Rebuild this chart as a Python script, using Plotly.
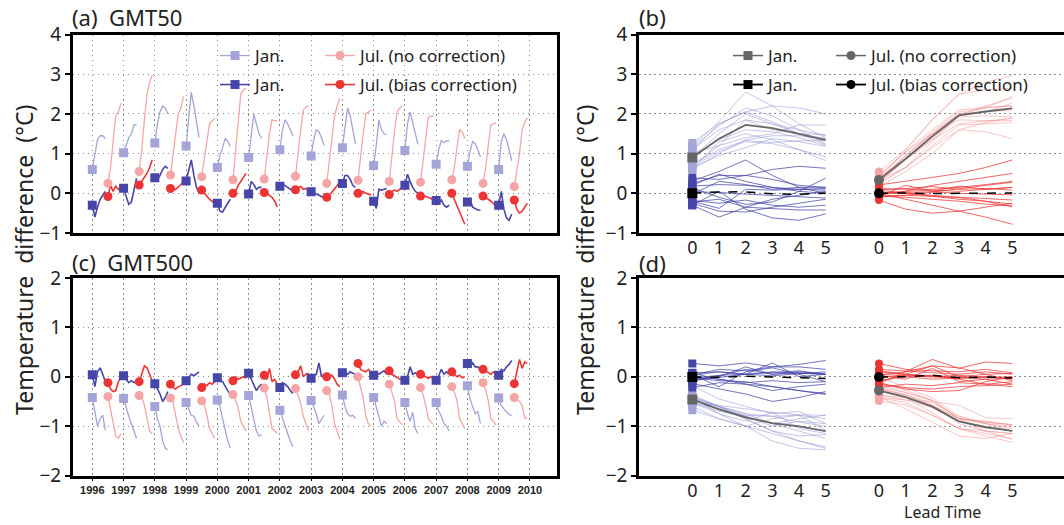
import numpy as np
import plotly.graph_objects as go

# ---------------- data ----------------
YEARS = list(range(1996, 2010))
LEAD = [0, 1, 2, 3, 4, 5]            # lead time (months)
YEAR_TICKS = list(range(1996, 2011))
LEAD_TICK_TEXT = ["0", "1", "2", "3", "4", "5"]
JUL_START = 0.5                       # July start as fraction of year
JUL_GROUP_SHIFT = 7                   # position of the July group on panel (b)/(d)

# GMT50, January initial, no correction
GMT50_JAN_RAW = [
    [0.60, 1.00, 1.35, 1.45, 1.45, 1.38],
    [1.02, 1.20, 1.40, 1.50, 1.72, 1.72],
    [1.27, 1.75, 2.05, 2.20, 2.15, 2.00],
    [1.19, 1.80, 2.55, 2.20, 1.75, 1.40],
    [0.65, 0.95, 1.15, 1.38, 1.30, 1.18],
    [0.90, 1.50, 2.00, 1.75, 1.50, 1.38],
    [1.10, 1.60, 1.85, 1.75, 1.60, 1.45],
    [0.94, 1.35, 1.60, 1.55, 1.40, 1.20],
    [1.15, 1.70, 2.15, 1.95, 1.60, 1.25],
    [0.70, 1.20, 1.85, 1.60, 1.50, 1.48],
    [1.08, 1.75, 2.05, 1.80, 1.50, 1.23],
    [0.73, 1.10, 1.33, 1.28, 1.32, 1.33],
    [0.68, 1.05, 1.30, 1.25, 1.10, 0.92],
    [0.60, 1.30, 1.50, 1.35, 1.10, 0.82],
]
# GMT50, January initial, bias correction
GMT50_JAN_BC = [
    [-0.30, -0.60, -0.35, -0.15, -0.05, 0.05],
    [0.13, -0.10, -0.28, -0.22, 0.05, 0.38],
    [0.39, 0.35, 0.45, 0.60, 0.68, 0.63],
    [0.31, 0.55, 0.84, 0.45, 0.15, 0.00],
    [-0.25, -0.45, -0.47, -0.35, -0.25, -0.15],
    [-0.02, 0.30, 0.22, 0.10, 0.15, 0.15],
    [0.18, 0.22, 0.20, 0.15, 0.10, 0.08],
    [0.04, 0.02, -0.02, -0.05, -0.08, -0.12],
    [0.25, 0.45, 0.45, 0.35, 0.20, 0.15],
    [-0.20, -0.38, 0.10, 0.08, 0.10, 0.12],
    [0.20, 0.48, 0.30, 0.15, 0.05, 0.00],
    [-0.18, -0.25, -0.17, -0.30, -0.35, -0.30],
    [-0.22, -0.15, -0.35, -0.38, -0.42, -0.42],
    [-0.30, 0.05, -0.40, -0.62, -0.68, -0.52],
]
# GMT50, July initial, no correction
GMT50_JUL_RAW = [
    [0.25, 0.65, 1.30, 1.95, 2.05, 2.27],
    [0.55, 1.10, 1.85, 2.50, 2.80, 2.97],
    [0.46, 1.05, 1.50, 2.00, 2.15, 2.44],
    [0.42, 0.85, 1.35, 1.75, 1.82, 1.89],
    [0.34, 1.10, 1.85, 2.50, 2.60, 2.65],
    [0.36, 0.95, 1.50, 1.85, 1.83, 1.83],
    [0.43, 1.05, 1.60, 2.10, 2.17, 2.20],
    [0.25, 0.85, 1.35, 1.95, 2.20, 2.40],
    [0.33, 0.95, 1.50, 2.00, 2.05, 2.10],
    [0.30, 0.95, 1.55, 2.05, 2.15, 2.20],
    [0.28, 0.85, 1.40, 1.92, 1.95, 1.93],
    [0.34, 0.65, 1.15, 1.60, 1.55, 1.38],
    [0.25, 0.65, 1.20, 1.72, 1.75, 1.78],
    [0.17, 0.55, 1.00, 1.60, 1.78, 1.90],
]
# GMT50, July initial, bias correction
GMT50_JUL_BC = [
    [-0.08, 0.20, 0.05, 0.18, 0.10, 0.15],
    [0.21, 0.30, 0.40, 0.50, 0.65, 0.84],
    [0.12, 0.10, 0.10, 0.15, 0.22, 0.30],
    [0.08, 0.00, -0.08, -0.15, -0.20, -0.27],
    [0.00, 0.05, 0.20, 0.30, 0.40, 0.50],
    [0.02, 0.00, -0.05, -0.10, -0.20, -0.34],
    [0.09, 0.12, 0.17, 0.10, 0.12, 0.08],
    [-0.10, -0.05, 0.03, 0.12, 0.20, 0.28],
    [0.00, 0.02, 0.04, 0.00, -0.02, -0.04],
    [-0.03, 0.05, 0.08, 0.05, 0.10, 0.15],
    [-0.07, -0.05, -0.08, -0.10, -0.13, -0.17],
    [0.00, -0.15, -0.30, -0.45, -0.60, -0.78],
    [-0.07, -0.10, -0.15, -0.20, -0.27, -0.32],
    [-0.17, -0.40, -0.50, -0.45, -0.35, -0.25],
]
# GMT500, January initial, no correction
GMT500_JAN_RAW = [
    [-0.42, -0.75, -1.00, -0.85, -0.78, -1.08],
    [-0.44, -0.65, -0.80, -0.95, -1.10, -1.25],
    [-0.60, -0.85, -1.00, -1.30, -1.45, -1.48],
    [-0.52, -0.65, -0.78, -0.80, -0.92, -1.00],
    [-0.47, -0.60, -0.85, -1.10, -1.30, -1.45],
    [-0.38, -0.62, -0.85, -1.10, -1.20, -1.17],
    [-0.68, -0.85, -1.00, -1.15, -1.30, -1.42],
    [-0.48, -0.60, -0.75, -0.95, -0.85, -0.78],
    [-0.37, -0.60, -0.75, -0.80, -0.78, -0.85],
    [-0.42, -0.60, -0.80, -1.00, -0.90, -0.95],
    [-0.52, -0.75, -0.90, -0.72, -1.05, -1.15],
    [-0.52, -0.70, -0.80, -0.95, -1.00, -1.10],
    [-0.18, -0.45, -0.60, -0.75, -0.70, -0.95],
    [-0.43, -0.58, -0.65, -0.72, -0.77, -0.78],
]
# GMT500, January initial, bias correction
GMT500_JAN_BC = [
    [0.04, -0.20, 0.10, 0.18, 0.05, -0.10],
    [0.02, -0.05, -0.12, -0.08, -0.12, -0.10],
    [-0.14, -0.25, -0.35, -0.50, -0.42, -0.30],
    [-0.08, -0.02, 0.05, 0.02, 0.06, 0.10],
    [-0.02, -0.08, -0.10, -0.20, -0.28, -0.36],
    [0.07, -0.05, -0.15, -0.28, -0.20, -0.15],
    [-0.22, -0.12, -0.15, -0.20, -0.28, -0.34],
    [-0.03, 0.03, 0.05, 0.28, 0.00, 0.05],
    [0.08, 0.10, 0.05, 0.10, 0.07, 0.05],
    [0.03, 0.10, 0.05, 0.08, 0.12, 0.05],
    [-0.07, 0.00, 0.20, 0.05, 0.08, 0.05],
    [-0.07, 0.02, 0.15, 0.05, 0.10, 0.05],
    [0.27, 0.22, 0.28, 0.20, 0.20, 0.15],
    [0.03, 0.15, 0.12, 0.20, 0.25, 0.33],
]
# GMT500, July initial, no correction
GMT500_JUL_RAW = [
    [-0.40, -0.65, -0.92, -1.20, -1.25, -1.15],
    [-0.38, -0.42, -0.58, -0.85, -1.10, -1.15],
    [-0.43, -0.52, -0.78, -1.05, -1.20, -1.33],
    [-0.49, -0.57, -0.78, -1.05, -1.15, -1.25],
    [-0.36, -0.47, -0.63, -0.90, -1.00, -1.10],
    [-0.23, -0.42, -0.73, -1.05, -1.10, -1.15],
    [-0.24, -0.37, -0.53, -0.80, -0.95, -1.10],
    [-0.28, -0.37, -0.58, -0.95, -1.10, -1.27],
    [0.00, -0.22, -0.43, -0.80, -0.95, -1.00],
    [-0.15, -0.32, -0.48, -0.85, -0.92, -0.97],
    [-0.22, -0.37, -0.58, -0.85, -0.92, -0.97],
    [-0.20, -0.32, -0.48, -0.85, -0.95, -1.05],
    [-0.12, -0.27, -0.48, -0.85, -0.90, -0.98],
    [-0.42, -0.47, -0.50, -0.58, -0.83, -0.85],
]
# GMT500, July initial, bias correction
GMT500_JUL_BC = [
    [-0.12, -0.25, -0.30, -0.28, -0.10, 0.00],
    [-0.10, 0.05, 0.22, 0.18, 0.05, -0.08],
    [-0.15, -0.22, -0.25, -0.20, -0.18, -0.15],
    [-0.22, -0.15, -0.18, -0.12, -0.15, -0.10],
    [-0.08, 0.00, -0.05, -0.02, 0.00, -0.03],
    [0.03, -0.05, 0.17, -0.10, -0.05, -0.15],
    [0.04, 0.10, 0.22, 0.00, 0.05, 0.07],
    [0.00, 0.02, 0.03, -0.05, -0.15, -0.20],
    [0.27, 0.15, 0.12, 0.10, 0.15, 0.08],
    [0.12, 0.05, 0.02, -0.02, -0.05, -0.03],
    [0.05, 0.02, 0.00, -0.03, 0.00, -0.05],
    [0.10, 0.05, 0.00, 0.03, -0.02, 0.00],
    [0.15, 0.12, 0.08, 0.05, 0.10, 0.05],
    [-0.14, 0.10, 0.35, 0.17, 0.30, 0.27],
]

# ---------------- styles ----------------
W, H = 1064, 525
LB = "#a4a4d8"      # Jan, no correction
DB = "#4646a8"      # Jan, bias correction
LP = "#f5a5a5"      # Jul, no correction
RD = "#ec3434"      # Jul, bias correction
GRAY = "#666666"
FONT = "Noto Sans, DejaVu Sans, sans-serif"
YEARFONT = "Liberation Sans, Arial, sans-serif"
GRID = dict(showgrid=True, gridcolor="#8c8c8c", gridwidth=1.2, griddash="1.5px,3.5px")


def px(x):
    return x / W


def py(y):
    return 1 - y / H


fig = go.Figure()


def series_xy(rows, start):
    xs, ys = [], []
    for yr, row in zip(YEARS, rows):
        for m, v in zip(LEAD, row):
            xs.append(yr + start + m / 12.0)
            ys.append(v)
        xs.append(None)
        ys.append(None)
    return xs, ys


def time_panel(raw_jan, bc_jan, raw_jul, bc_jul, xa, ya):
    for rows, start, color, width in [
        (raw_jan, 0.0, LB, 1.3), (raw_jul, JUL_START, LP, 1.3),
        (bc_jan, 0.0, DB, 1.6), (bc_jul, JUL_START, RD, 1.6),
    ]:
        xs, ys = series_xy(rows, start)
        fig.add_trace(go.Scatter(x=xs, y=ys, mode="lines", xaxis=xa, yaxis=ya,
                                 line=dict(color=color, width=width),
                                 showlegend=False, hoverinfo="skip"))
    for rows, start, color, sym in [
        (raw_jan, 0.0, LB, "square"), (raw_jul, JUL_START, LP, "circle"),
        (bc_jan, 0.0, DB, "square"), (bc_jul, JUL_START, RD, "circle"),
    ]:
        fig.add_trace(go.Scatter(x=[yr + start for yr in YEARS], y=[r[0] for r in rows],
                                 mode="markers", xaxis=xa, yaxis=ya,
                                 marker=dict(color=color, symbol=sym, size=9),
                                 showlegend=False))


def lead_panel(raw_jan, bc_jan, raw_jul, bc_jul, xa, ya):
    groups = [
        (raw_jan, 0, "rgba(150,150,212,0.55)", LB, "square", 1.0),
        (bc_jan, 0, "rgba(70,70,170,0.75)", DB, "square", 1.0),
        (raw_jul, JUL_GROUP_SHIFT, "rgba(242,140,140,0.5)", LP, "circle", 1.0),
        (bc_jul, JUL_GROUP_SHIFT, "rgba(236,52,52,0.75)", RD, "circle", 1.0),
    ]
    for rows, shift, lc, mc, sym, w in groups:
        xs, ys = [], []
        for row in rows:
            xs += [l + shift for l in LEAD] + [None]
            ys += list(row) + [None]
        fig.add_trace(go.Scatter(x=xs, y=ys, mode="lines", xaxis=xa, yaxis=ya,
                                 line=dict(color=lc, width=w), showlegend=False,
                                 hoverinfo="skip"))
    for rows, shift, lc, mc, sym, w in groups:
        fig.add_trace(go.Scatter(x=[LEAD[0] + shift] * len(rows), y=[r[0] for r in rows],
                                 mode="markers", xaxis=xa, yaxis=ya,
                                 marker=dict(color=mc, symbol=sym, size=8),
                                 showlegend=False))
    for rows, shift, color, sym, dash in [
        (raw_jan, 0, GRAY, "square", "solid"), (raw_jul, JUL_GROUP_SHIFT, GRAY, "circle", "solid"),
        (bc_jan, 0, "black", "square", "dash"), (bc_jul, JUL_GROUP_SHIFT, "black", "circle", "dash"),
    ]:
        mean = np.mean(np.array(rows), axis=0)
        xs = [l + shift for l in LEAD]
        fig.add_trace(go.Scatter(x=xs, y=mean, mode="lines", xaxis=xa, yaxis=ya,
                                 line=dict(color=color, width=1.8 if dash == "solid" else 1.5, dash=dash),
                                 showlegend=False))
        fig.add_trace(go.Scatter(x=[xs[0]], y=[mean[0]], mode="markers", xaxis=xa, yaxis=ya,
                                 marker=dict(color=color, symbol=sym, size=10),
                                 showlegend=False))


time_panel(GMT50_JAN_RAW, GMT50_JAN_BC, GMT50_JUL_RAW, GMT50_JUL_BC, "x", "y")
lead_panel(GMT50_JAN_RAW, GMT50_JAN_BC, GMT50_JUL_RAW, GMT50_JUL_BC, "x2", "y2")
time_panel(GMT500_JAN_RAW, GMT500_JAN_BC, GMT500_JUL_RAW, GMT500_JUL_BC, "x3", "y3")
lead_panel(GMT500_JAN_RAW, GMT500_JAN_BC, GMT500_JUL_RAW, GMT500_JUL_BC, "x4", "y4")

# legend entries (first column narrow, second column holds the long label)
for name, color, sym, lg, width, lw in [
    ("Jan.", LB, "square", "legend", 1.3, 60), ("Jul. (no correction)", LP, "circle", "legend", 1.3, 170),
    ("Jan.", DB, "square", "legend2", 1.6, 60), ("Jul. (bias correction)", RD, "circle", "legend2", 1.6, 180),
    ("Jan.", GRAY, "square", "legend3", 1.5, 58), ("Jul. (no correction)", GRAY, "circle", "legend3", 1.5, 170),
    ("Jan.", "black", "square", "legend4", 1.8, 58), ("Jul. (bias correction)", "black", "circle", "legend4", 1.8, 180),
]:
    fig.add_trace(go.Scatter(x=[None], y=[None], mode="lines+markers", name=name,
                             line=dict(color=color, width=width),
                             marker=dict(color=color, symbol=sym, size=9),
                             legend=lg, legendwidth=lw, showlegend=True, xaxis="x", yaxis="y"))

FRAME = dict(showline=True, linecolor="black", linewidth=2.5, zeroline=False, automargin=False)
YTICK = dict(ticks="outside", ticklen=5, tickwidth=1.5, tickcolor="black",
             tickfont=dict(family=FONT, size=19, color="#222"), dtick=1)
LEADFONT = dict(family=FONT, size=18, color="#222")

top_dom = [py(233), py(34.5)]
bot_dom = [py(475.5), py(278)]
left_dom = [px(72.7), px(557)]
right_dom = [px(639), 1.0]
time_range = [1995.373, 2010.866]
lead_range = [-2.0, 13.94]
lead_vals = LEAD + [l + JUL_GROUP_SHIFT for l in LEAD]
lead_text = LEAD_TICK_TEXT + LEAD_TICK_TEXT

fig.update_layout(
    template="none",
    width=W, height=H, margin=dict(l=0, r=0, t=0, b=0, autoexpand=False),
    paper_bgcolor="white", plot_bgcolor="white",
    font=dict(family=FONT, color="#222"),
    xaxis=dict(domain=left_dom, range=time_range, anchor="y", tickvals=YEAR_TICKS,
               showticklabels=False, ticks="", mirror=True, **FRAME, **GRID),
    yaxis=dict(domain=top_dom, range=[-1, 4], anchor="x", mirror=True, **FRAME, **GRID, **YTICK),
    xaxis3=dict(domain=left_dom, range=time_range, anchor="y3", tickvals=YEAR_TICKS,
                ticks="outside", ticklen=3, tickcolor="black", tickangle=0,
                tickfont=dict(family=YEARFONT, size=11, color="#222", weight="bold"),
                mirror=True, **FRAME, **GRID),
    yaxis3=dict(domain=bot_dom, range=[-2, 2], anchor="x3", mirror=True, **FRAME, **GRID, **YTICK),
    xaxis2=dict(domain=right_dom, range=lead_range, anchor="y2", tickvals=lead_vals,
                ticktext=lead_text, showgrid=False, mirror=True, ticks="",
                ticklabelstandoff=-3, tickfont=LEADFONT, **FRAME),
    yaxis2=dict(domain=top_dom, range=[-1, 4], anchor="x2", mirror=False, **FRAME, **GRID, **YTICK),
    xaxis4=dict(domain=right_dom, range=lead_range, anchor="y4", tickvals=lead_vals,
                ticktext=lead_text, showgrid=False, mirror=True, ticks="",
                ticklabelstandoff=-3, tickfont=LEADFONT, **FRAME),
    yaxis4=dict(domain=bot_dom, range=[-2, 2], anchor="x4", mirror=False, **FRAME, **GRID, **YTICK),
)

LEG = dict(orientation="h", xanchor="left", yanchor="middle", bgcolor="rgba(0,0,0,0)",
           font=dict(family=FONT, size=17, color="#222"), tracegroupgap=0, borderwidth=0)
fig.update_layout(
    legend=dict(x=px(215), y=py(56), **LEG),
    legend2=dict(x=px(215), y=py(85), **LEG),
    legend3=dict(x=px(728), y=py(56), **LEG),
    legend4=dict(x=px(728), y=py(85), **LEG),
)

NB = "\u00a0"
ann = [
    dict(text=f"(a){NB}{NB}GMT50", x=px(70), y=py(17)),
    dict(text=f"(c){NB}{NB}GMT500", x=px(70), y=py(262)),
    dict(text="(b)", x=px(637), y=py(17)),
    dict(text="(d)", x=px(637), y=py(263)),
]
for a in ann:
    fig.add_annotation(xref="paper", yref="paper", xanchor="left", yanchor="middle",
                       showarrow=False, text=a["text"], x=a["x"], y=a["y"],
                       font=dict(family=FONT, size=22, color="#222"))
YTITLE = f"Temperature{NB}{NB}difference{NB}{NB}(°C)"
for xc in [24, 585]:
    fig.add_annotation(xref="paper", yref="paper", x=px(xc), y=py(260), text=YTITLE,
                       textangle=-90, showarrow=False, xanchor="center", yanchor="middle",
                       font=dict(family=FONT, size=23, color="#222"))
fig.add_annotation(xref="paper", yref="paper", x=px(942), y=py(512), text="Lead Time",
                   showarrow=False, xanchor="center", yanchor="middle",
                   font=dict(family=FONT, size=16, color="#222"))

# remove the browser's default page margin so the 1064x525 figure fills the window
fig.write_html("out.html", config={"displayModeBar": False},
               post_script="document.body.style.margin='0';")
